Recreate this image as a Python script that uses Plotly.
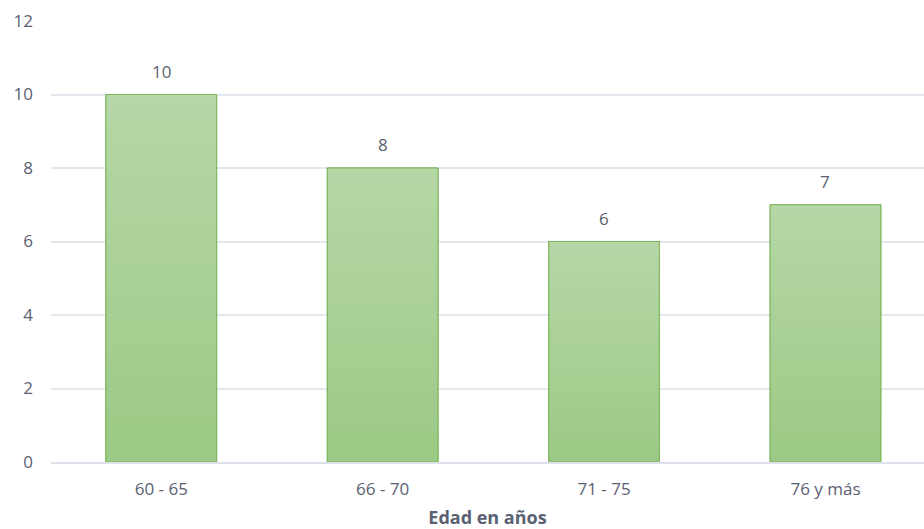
import plotly.graph_objects as go

# Age groups and counts
categorias = ["60 - 65", "66 - 70", "71 - 75", "76 y más"]
valores = [10, 8, 6, 7]
ticks_y = [0, 2, 4, 6, 8, 10, 12]

texto = "#5a6172"
fuente = "Open Sans, Noto Sans, sans-serif"
verde_arriba = "#b6d7a6"
verde_abajo = "#9cc985"
borde = "#7ab55a"
ancho = 0.5

posiciones = list(range(len(categorias)))

fig = go.Figure()
fig.add_trace(go.Bar(
    x=posiciones,
    y=valores,
    width=ancho,
    marker=dict(color="#abd095", line=dict(color=borde, width=1)),
    hoverinfo="skip",
))

# Vertical gradient fill laid over each bar, from the bar's own value
for i, v in zip(posiciones, valores):
    x0, x1 = i - ancho / 2, i + ancho / 2
    fig.add_trace(go.Scatter(
        x=[x0, x0, x1, x1, x0],
        y=[0, v, v, 0, 0],
        mode="lines",
        fill="toself",
        fillgradient=dict(type="vertical", start=0, stop=v,
                          colorscale=[[0, verde_abajo], [1, verde_arriba]]),
        line=dict(color=borde, width=1),
        hoverinfo="skip",
    ))

# Value labels above each bar
for i, v in zip(posiciones, valores):
    fig.add_annotation(x=i, y=v, text=str(v), showarrow=False, yanchor="bottom",
                       yshift=10, font=dict(size=17, color=texto, family=fuente))

fig.update_layout(
    width=924, height=529,
    margin=dict(l=51, r=0, t=21, b=67),
    plot_bgcolor="white", paper_bgcolor="white",
    showlegend=False,
    font=dict(family=fuente, color=texto, size=17),
    xaxis=dict(
        range=[-0.498, 3.445],
        tickmode="array", tickvals=posiciones, ticktext=categorias,
        showgrid=False, showline=True, linecolor="#dde1ea", linewidth=1.5,
        ticks="", ticklabelstandoff=11, automargin=False,
        tickfont=dict(size=17, color=texto),
        title=dict(text="<b>Edad en años</b>", font=dict(size=18, color=texto), standoff=14),
    ),
    yaxis=dict(
        range=[0, 12], tickmode="array", tickvals=ticks_y,
        showgrid=True, gridcolor="#e4e7ee", gridwidth=1.5,
        zeroline=False, ticks="", ticklabelstandoff=17, automargin=False,
        tickfont=dict(size=17, color=texto),
    ),
)

fig.write_html("out.html")
